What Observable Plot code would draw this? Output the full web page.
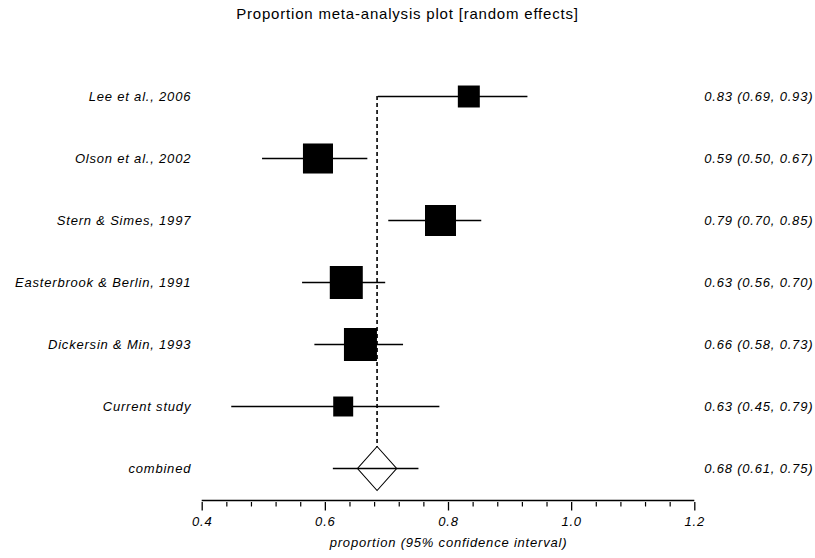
<!DOCTYPE html>
<html>
<head>
<meta charset="utf-8">
<script src="https://cdn.jsdelivr.net/npm/d3@7"></script>
<script src="https://cdn.jsdelivr.net/npm/@observablehq/plot@0.6"></script>
<style>
  html, body { margin: 0; padding: 0; background: #fff; }
  #title { width: 815px; height: 30px; box-sizing: border-box; padding-top: 6px; padding-left: 0px; text-align: center;
    font: 15px "Liberation Sans", Arial, sans-serif; letter-spacing: 0.8px; color: #000; line-height: 16px; }
</style>
</head>
<body>
<div id="title">Proportion meta-analysis plot [random effects]</div>
<div id="chart"></div>
<script>
// ---- data ----
const studies = ["Lee et al., 2006", "Olson et al., 2002", "Stern & Simes, 1997", "Easterbrook & Berlin, 1991", "Dickersin & Min, 1993", "Current study"];
const estimates = [0.833, 0.588, 0.787, 0.634, 0.657, 0.629];
const lowerCI   = [0.686, 0.498, 0.703, 0.563, 0.583, 0.448];
const upperCI   = [0.929, 0.669, 0.854, 0.698, 0.727, 0.786];
const weights   = [9.8, 18.3, 19.5, 22.1, 22.1, 8.1];
const pooledLabel = "combined";
const pooledEstimate = 0.684;
const pooledLower = 0.613;
const pooledUpper = 0.752;
const majorTicks = [0.4, 0.6, 0.8, 1.0, 1.2];
const minorTicks = [0.44, 0.48, 0.52, 0.56, 0.64, 0.68, 0.72, 0.76, 0.84, 0.88, 0.92, 0.96, 1.04, 1.08, 1.12, 1.16];
const axisTitle = "proportion (95% confidence interval)";

const f2 = d3.format(".2f");
const rows = studies.map((name, i) => ({name, est: estimates[i], lo: lowerCI[i], hi: upperCI[i], w: weights[i]}));
const pooled = {name: pooledLabel, est: pooledEstimate, lo: pooledLower, hi: pooledUpper, top: studies[0]};
const all = [...rows, pooled];
const axisLine = [{x1: majorTicks[0], x2: majorTicks[majorTicks.length - 1], y: pooledLabel}];

const diamond = {
  draw(context, size) {
    const r = Math.sqrt(size / Math.PI);
    const hw = r * 0.89;
    context.moveTo(0, -r);
    context.lineTo(hw, 0);
    context.lineTo(0, r);
    context.lineTo(-hw, 0);
    context.closePath();
  }
};

const chart = Plot.plot({
  width: 815,
  height: 528,
  marginLeft: 201.7,
  marginRight: 120.7,
  marginTop: 20,
  marginBottom: 56,
  style: {fontFamily: "'Liberation Sans', Arial, sans-serif", fontSize: "13px", fontStyle: "italic", letterSpacing: "0.8px", color: "#000", background: "#fff", overflow: "visible"},
  x: {domain: [0.4, 1.2], axis: null},
  y: {type: "point", domain: [...studies, pooledLabel], range: [63.7, 440], padding: 0, axis: null},
  r: {type: "sqrt", domain: [0, 22.1], range: [0, 33 / Math.sqrt(Math.PI)]},
  marks: [
    Plot.ruleX([pooled], {x: "est", y1: "top", y2: "name", stroke: "#000", strokeWidth: 1.6, strokeDasharray: "4,3"}),
    Plot.ruleY(rows, {y: "name", x1: "lo", x2: "hi", stroke: "#000", strokeWidth: 1.3}),
    Plot.dot(rows, {x: "est", y: "name", r: "w", symbol: "square", fill: "#000"}),
    Plot.dot([pooled], {x: "est", y: "name", r: 22, symbol: diamond, fill: "#fff", stroke: "#000", strokeWidth: 1.1}),
    Plot.ruleY([pooled], {y: "name", x1: "lo", x2: "hi", stroke: "#000", strokeWidth: 1.3}),
    Plot.text(all, {y: "name", text: "name", frameAnchor: "left", textAnchor: "end", dx: -11, fill: "#000"}),
    Plot.text(all, {y: "name", text: d => `${f2(d.est)} (${f2(d.lo)}, ${f2(d.hi)})`, frameAnchor: "right", textAnchor: "end", dx: 118.5, fill: "#000"}),
    Plot.ruleY(axisLine, {y: "y", x1: "x1", x2: "x2", dy: 32, stroke: "#000", strokeWidth: 1.4}),
    Plot.axisX({ticks: minorTicks, tickSize: 4.5, tickFormat: () => "", stroke: "#000", strokeWidth: 1.2, label: null}),
    Plot.axisX({ticks: majorTicks, tickSize: 8.5, tickPadding: 6, tickFormat: d => d.toFixed(1), stroke: "#000", strokeWidth: 1.3, fill: "#000", label: null}),
    Plot.text([axisTitle], {text: d => d, frameAnchor: "bottom", dy: 44, fill: "#000"})
  ]
});
document.getElementById("chart").appendChild(chart);
</script>
</body>
</html>
